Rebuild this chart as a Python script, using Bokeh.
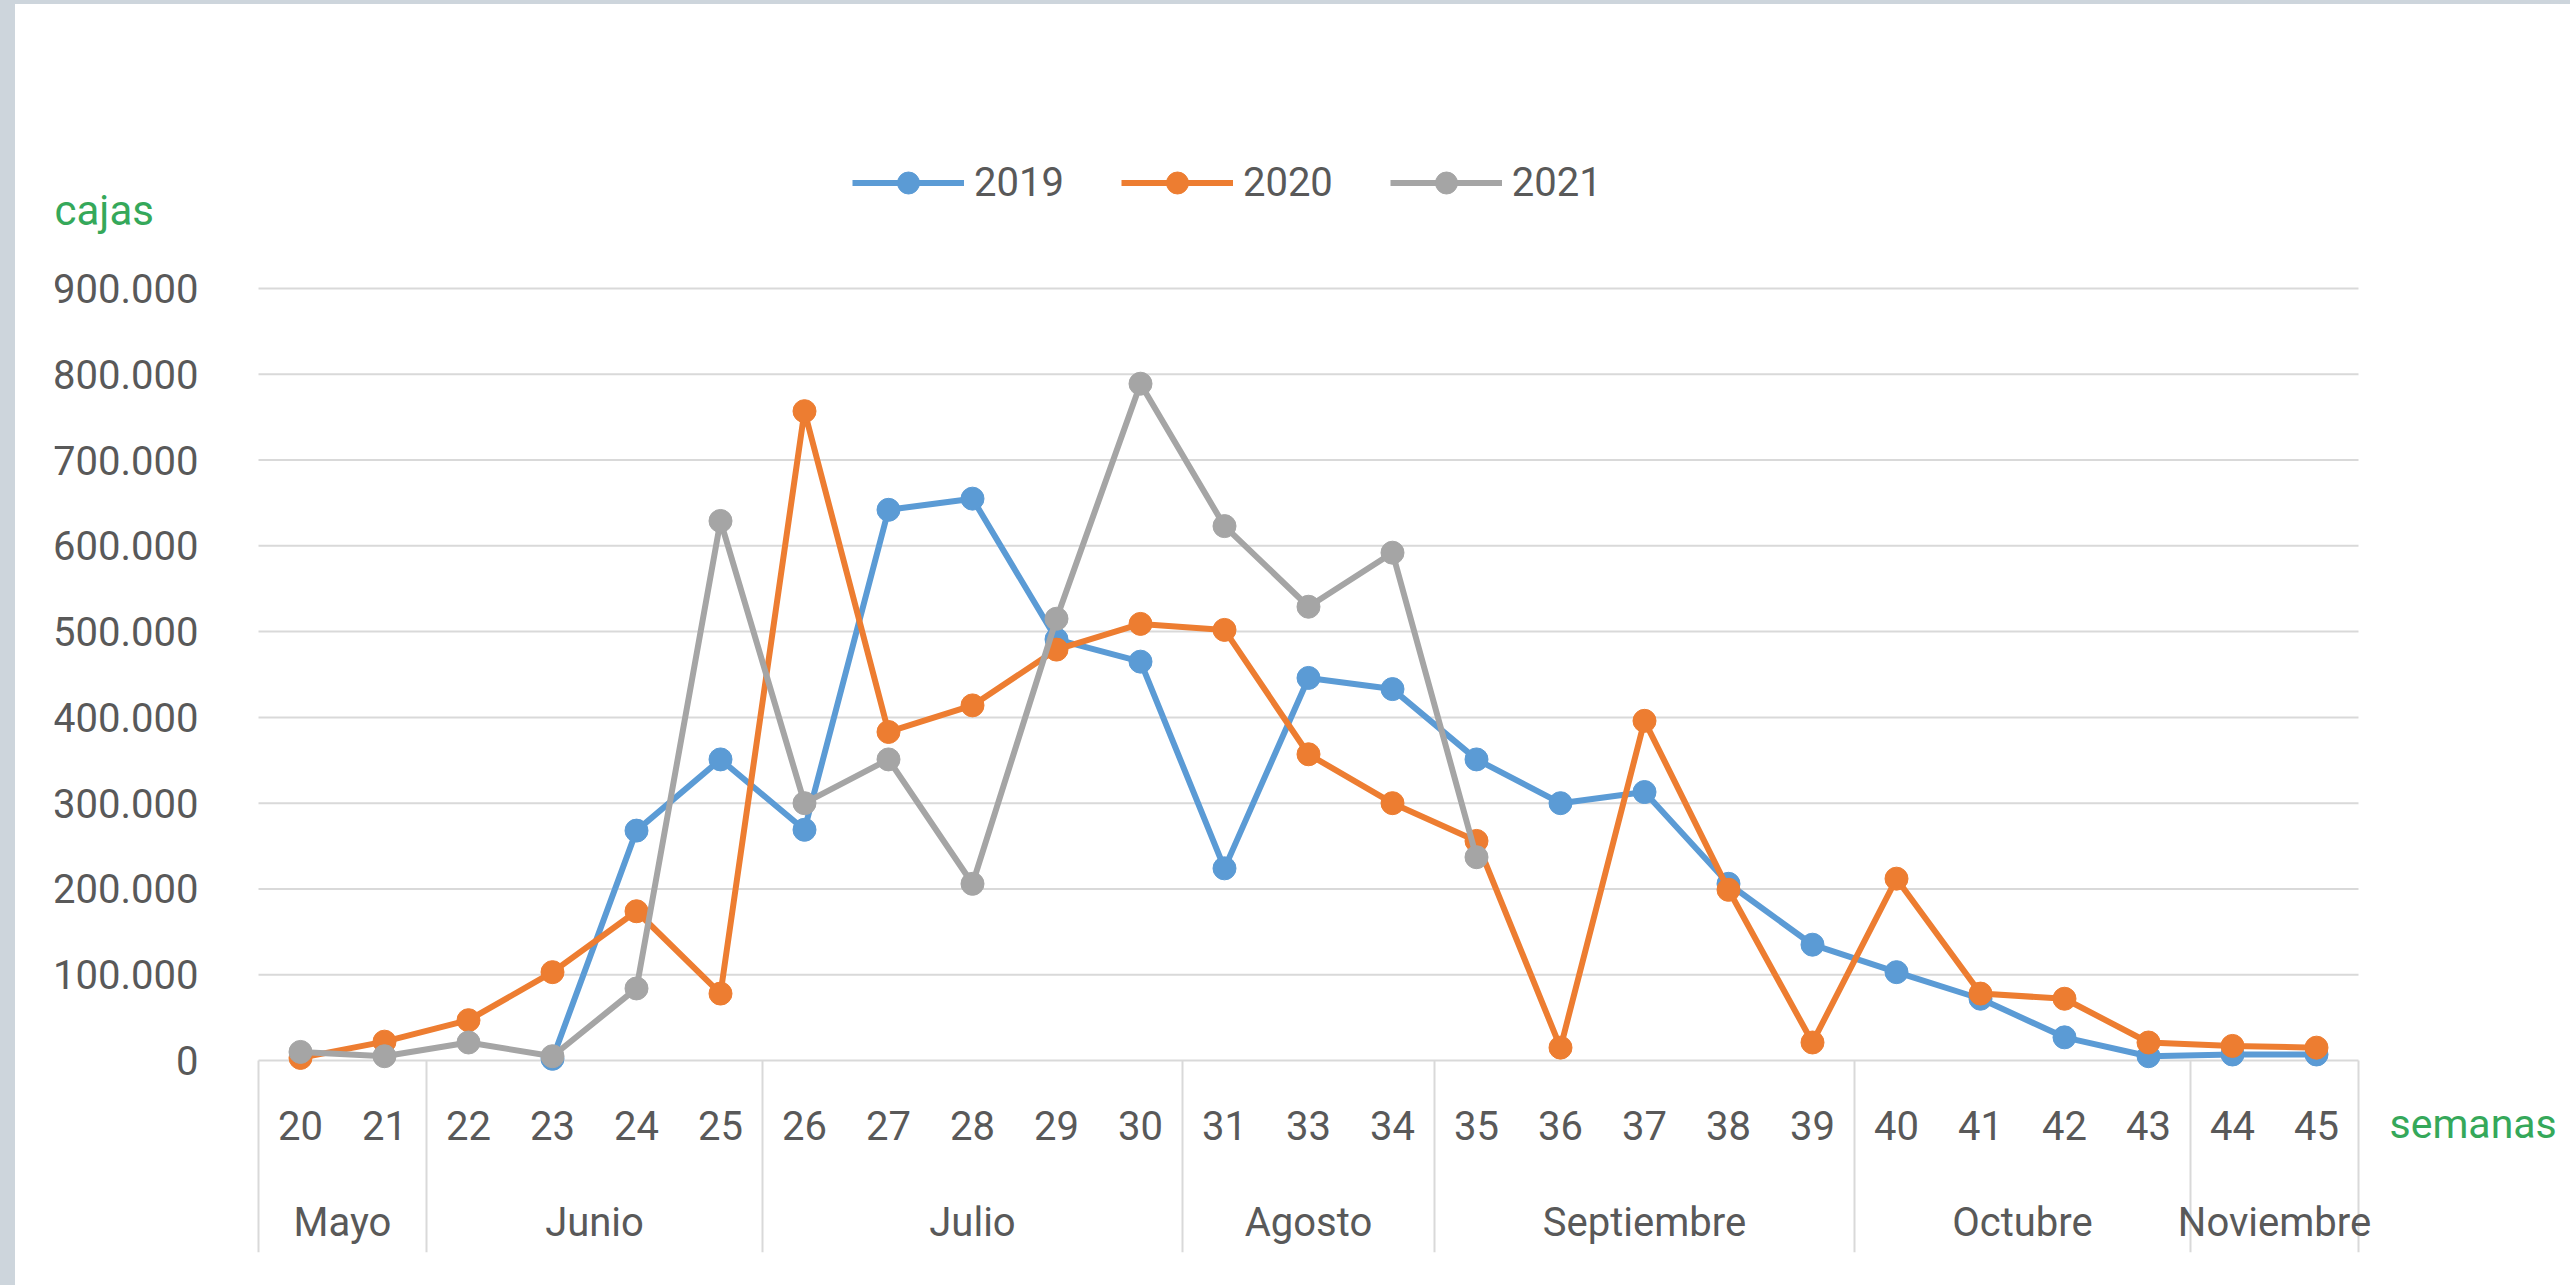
from bokeh.plotting import figure
from bokeh.models import (FactorRange, Range1d, FixedTicker, CustomJSTickFormatter,
                          CategoricalAxis, Legend, LegendItem, Label, ColumnDataSource, Spacer)
from bokeh.layouts import row, column
from bokeh.embed import file_html
from bokeh.resources import INLINE

nan = float("nan")

# ---------------- data ----------------
weeks = ["20", "21", "22", "23", "24", "25", "26", "27", "28", "29", "30", "31", "33",
         "34", "35", "36", "37", "38", "39", "40", "41", "42", "43", "44", "45"]
months = ["Mayo", "Mayo", "Junio", "Junio", "Junio", "Junio", "Julio", "Julio", "Julio",
          "Julio", "Julio", "Agosto", "Agosto", "Agosto", "Septiembre", "Septiembre",
          "Septiembre", "Septiembre", "Septiembre", "Octubre", "Octubre", "Octubre",
          "Octubre", "Noviembre", "Noviembre"]
series_names = ["2019", "2020", "2021"]
v2019 = [nan, nan, nan, 2000, 268000, 351000, 269000, 642000, 655000, 491000, 465000,
         224000, 446000, 433000, 351000, 300000, 313000, 206000, 135000, 103000, 72000,
         27000, 5000, 7000, 7000]
v2020 = [3000, 22000, 47000, 103000, 174000, 78000, 757000, 383000, 414000, 479000,
         509000, 502000, 357000, 300000, 256000, 15000, 396000, 199000, 21000, 212000,
         78000, 72000, 21000, 17000, 15000]
v2021 = [10000, 5000, 21000, 5000, 84000, 629000, 300000, 351000, 206000, 515000, 789000,
         623000, 529000, 592000, 237000, nan, nan, nan, nan, nan, nan, nan, nan, nan, nan]
y_ticks = [0, 100000, 200000, 300000, 400000, 500000, 600000, 700000, 800000, 900000]
colors = ["#5B9BD5", "#ED7D31", "#A5A5A5"]

# ---------------- layout numbers (pixels, figure-relative) ----------------
STRIP_L, STRIP_T = 15, 4
W, H = 2570 - STRIP_L, 1285 - STRIP_T
cat_left, cat_right = 243, 2343             # pixel span of the categories
frame_left, frame_right = 39, 2547
frame_top, frame_bottom = 116, 1248
y0_px, ytop_px = 1056, 284                  # pixel rows of value 0 and 900.000
ppu = (y0_px - ytop_px) / 900000.0
y_start = -(frame_bottom - y0_px) / ppu
y_end = (y0_px - frame_top) / ppu
n = len(weeks)
cat_w = (cat_right - cat_left) / n
pad_units = (cat_left - frame_left) / cat_w   # factors of padding on each side

factors = list(zip(months, weeks))
x_range = FactorRange(*factors, factor_padding=0, group_padding=0, subgroup_padding=0,
                      range_padding=2 * pad_units / n, range_padding_units="percent")

p = figure(width=W, height=H, x_range=x_range, y_range=Range1d(y_start, y_end),
           output_backend="svg", toolbar_location=None,
           min_border_left=frame_left, min_border_right=W - frame_right,
           min_border_top=frame_top, min_border_bottom=H - frame_bottom)
p.outline_line_color = None
p.background_fill_color = "white"
p.border_fill_color = "white"
p.xgrid.visible = False
p.ygrid.visible = False

FONT = "Roboto"
GREY_TXT = "#595959"
GRID = "#D9D9D9"
GREEN = "#35A85A"

# horizontal grid lines spanning only the category area
first, last = factors[0], factors[-1]
gsrc = ColumnDataSource(dict(x0=[(first[0], first[1], -0.5)] * len(y_ticks),
                             x1=[(last[0], last[1], 0.5)] * len(y_ticks),
                             y=y_ticks))
p.segment(x0="x0", x1="x1", y0="y", y1="y", source=gsrc, line_color=GRID, line_width=2)

# month separators
bx, prev = [], None
for m, w in factors:
    if m != prev:
        bx.append((m, w, -0.5))
        prev = m
bx.append((last[0], last[1], 0.5))
sep = ColumnDataSource(dict(x=bx, y0=[0] * len(bx), y1=[y_start] * len(bx)))
p.segment(x0="x", x1="x", y0="y0", y1="y1", source=sep, line_color=GRID, line_width=2)

# y axis pinned at the left edge of the categories
ya = p.yaxis[0]
ya.fixed_location = 0
ya.ticker = FixedTicker(ticks=y_ticks)
ya.formatter = CustomJSTickFormatter(
    code='return tick === 0 ? "0" : (tick/1000).toFixed(0) + ".000";')
ya.axis_line_color = None
ya.major_tick_line_color = None
ya.minor_tick_line_color = None
ya.major_tick_out = 0
ya.major_tick_in = 0
ya.major_label_standoff = 60
ya.major_label_text_font = FONT
ya.major_label_text_font_size = "40px"
ya.major_label_text_color = GREY_TXT

# x axis (weeks)
xa = p.xaxis[0]
xa.fixed_location = 0
xa.axis_line_color = None
xa.major_tick_line_color = None
xa.major_tick_out = 0
xa.major_tick_in = 0
xa.major_label_standoff = 50
xa.major_label_text_font = FONT
xa.major_label_text_font_size = "40px"
xa.major_label_text_color = GREY_TXT
xa.group_text_color = None
xa.group_text_font_size = "40px"
xa.separator_line_color = None

# second axis (months)
xb = CategoricalAxis(fixed_location=0)
xb.axis_line_color = None
xb.major_tick_line_color = None
xb.major_tick_out = 0
xb.major_tick_in = 0
xb.major_label_standoff = 138
xb.major_label_text_font = FONT
xb.major_label_text_font_size = "40px"
xb.major_label_text_color = None
xb.group_text_font = FONT
xb.group_text_font_size = "40px"
xb.group_text_font_style = "normal"
xb.group_text_color = GREY_TXT
xb.separator_line_color = None
p.add_layout(xb, "below")

# series
items = []
for name, vals, col in zip(series_names, [v2019, v2020, v2021], colors):
    src = ColumnDataSource(dict(x=factors, y=vals))
    l = p.line("x", "y", source=src, line_color=col, line_width=6, line_join="round")
    s = p.scatter("x", "y", source=src, size=23, fill_color=col, line_color=col)
    items.append(LegendItem(label=name, renderers=[l, s]))

legend = Legend(items=items, orientation="horizontal", location=(852 - STRIP_L - frame_left, 1042),
                glyph_width=112, glyph_height=55, label_standoff=10, spacing=57,
                padding=0, margin=0, border_line_color=None, background_fill_alpha=0,
                label_text_font=FONT, label_text_font_size="40px",
                label_text_color=GREY_TXT)
p.add_layout(legend)

# green unit labels (data units of the plot's own scales)
cajas_y = (y0_px - 206) / ppu
sem_y = -(1119 - y0_px) / ppu
p.add_layout(Label(x=-pad_units, y=cajas_y, text="cajas",
                   text_font=FONT, text_font_size="42px", text_color=GREEN,
                   text_baseline="alphabetic", text_align="left"))
p.add_layout(Label(x=n + (2374 - cat_right) / cat_w, y=sem_y, text="semanas",
                   text_font=FONT, text_font_size="41px", text_color=GREEN,
                   text_baseline="alphabetic", text_align="left"))

BG = "#CDD5DC"
layout = column(Spacer(width=2570, height=STRIP_T, styles={"background-color": BG}),
                row(Spacer(width=STRIP_L, height=H, styles={"background-color": BG}), p))

open("out.html", "w").write(file_html(layout, INLINE))
